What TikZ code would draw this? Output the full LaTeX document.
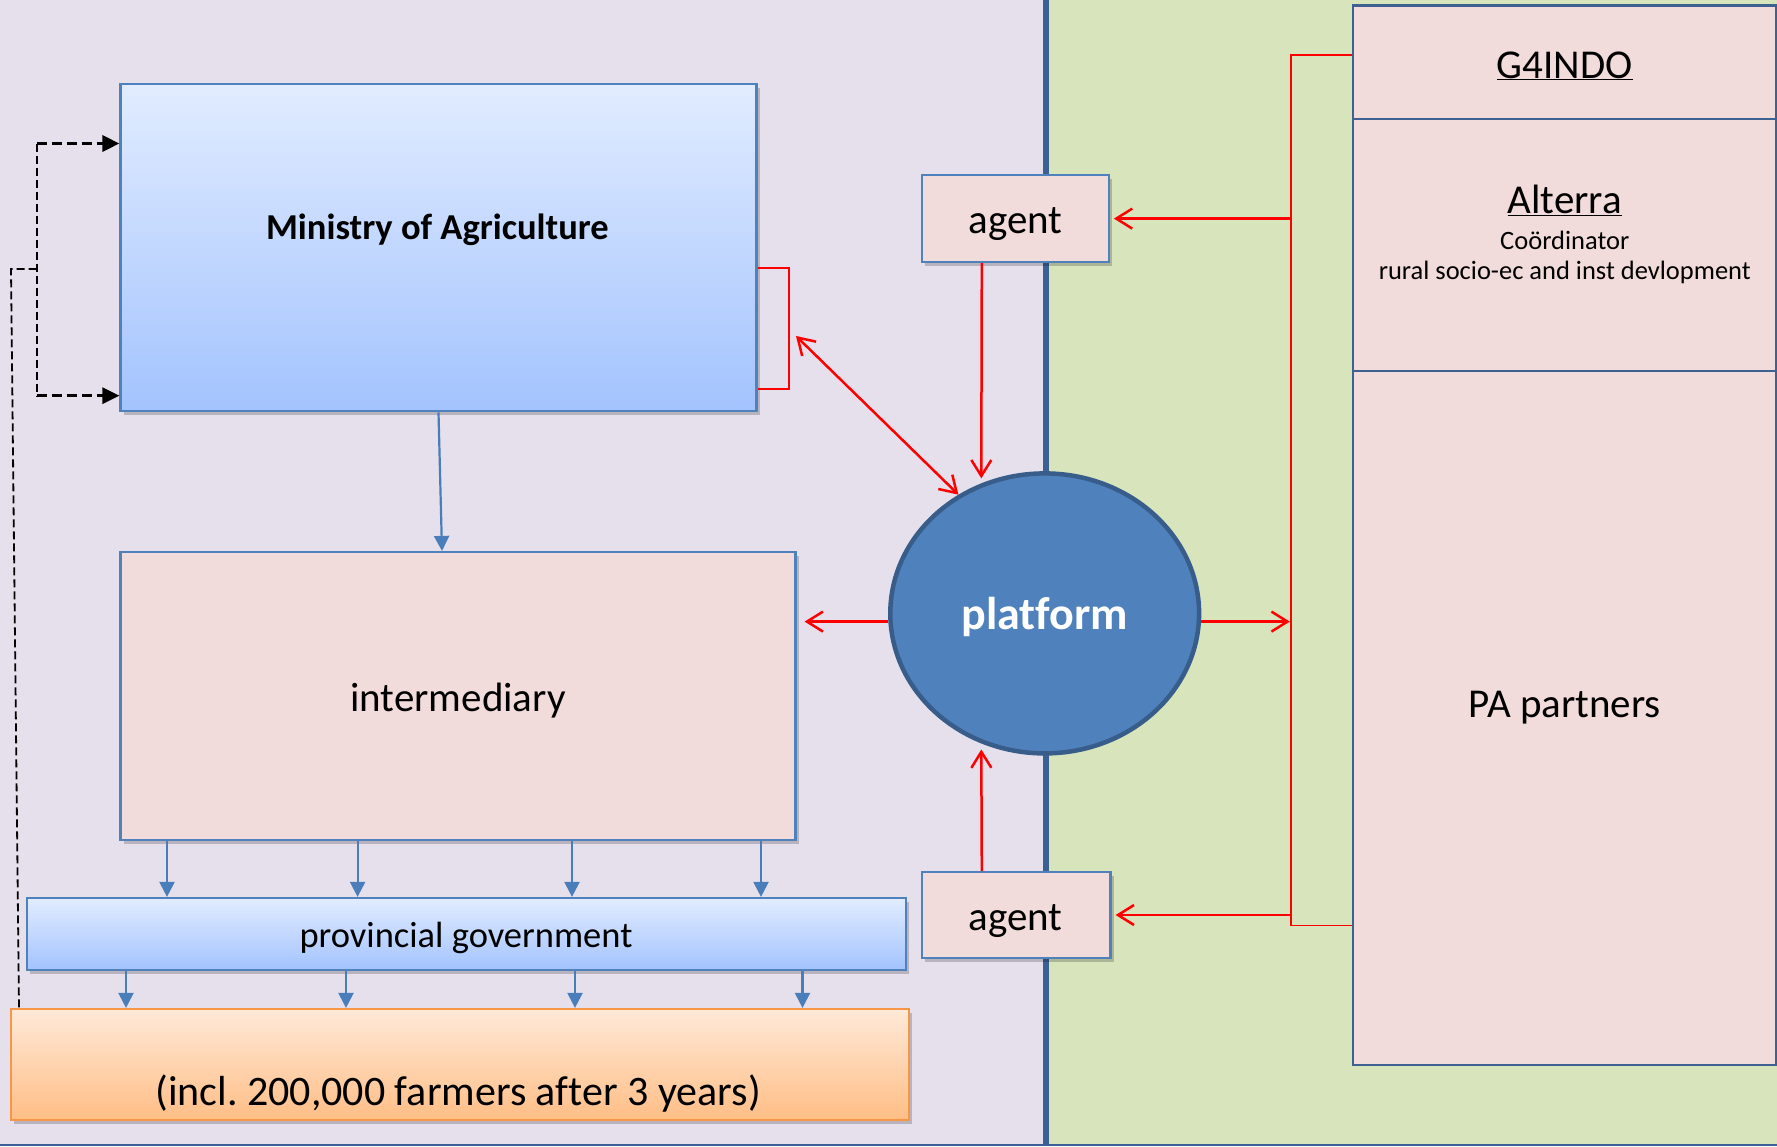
\documentclass[tikz,border=0pt]{standalone}
\usepackage{fontspec}
\setmainfont{Carlito}[Ligatures=NoCommon]
\usetikzlibrary{arrows.meta,shapes.geometric,shadows}
\definecolor{leftbg}{HTML}{E6E0EC}
\definecolor{rightbg}{HTML}{D8E4BC}
\definecolor{divblue}{HTML}{3B6194}
\definecolor{boxblue}{HTML}{4F81BD}
\definecolor{darkblue}{HTML}{3E6192}
\definecolor{gradtop}{HTML}{E1ECFF}
\definecolor{gradbot}{HTML}{A3C3FE}
\definecolor{pinkfill}{HTML}{F2DCDB}
\definecolor{orangetop}{HTML}{FFE9D8}
\definecolor{orangebot}{HTML}{FFBE86}
\definecolor{orangeborder}{HTML}{F79646}
\definecolor{platfill}{HTML}{4F81BD}
\definecolor{platborder}{HTML}{385D8A}
\definecolor{arrowblue}{HTML}{4A7EBB}
\definecolor{redc}{HTML}{FF0000}
\newcommand\fsBig{\fontsize{41}{49}\selectfont}
\newcommand\fsFarm{\fontsize{42}{50}\selectfont}
\newcommand\fsMid{\fontsize{36.5}{44}\selectfont}
\newcommand\fsPlat{\fontsize{46}{55}\selectfont}
\newcommand\fsSmall{\fontsize{26.5}{32}\selectfont}
\tikzset{
  bluebox/.style={rectangle, draw=boxblue, line width=2.2pt, top color=gradtop, bottom color=gradbot, inner sep=0pt},
  pinkbox/.style={rectangle, draw=boxblue, line width=2.2pt, fill=pinkfill, inner sep=0pt},
  orangebox/.style={rectangle, draw=orangeborder, line width=2.2pt, top color=orangetop, bottom color=orangebot, inner sep=0pt},
  rightbox/.style={rectangle, draw=darkblue, line width=2.2pt, fill=pinkfill, inner sep=0pt},
  shadowed/.style={drop shadow={shadow xshift=3pt, shadow yshift=-4pt, opacity=0.2, fill=black}},
  txt/.style={anchor=base, inner sep=0pt, outer sep=0pt},
  redline/.style={draw=redc, line width=1.8pt},
  redarrow/.style={draw=redc, line width=2.5pt, -{Straight Barb[length=16pt,width=20pt,line width=2.5pt]}},
  redboth/.style={draw=redc, line width=2.5pt, {Straight Barb[length=16pt,width=20pt,line width=2.5pt]}-{Straight Barb[length=16pt,width=20pt,line width=2.5pt]}},
  bluearrow/.style={draw=arrowblue, line width=2.2pt, -{Triangle[length=15pt,width=15pt]}},
  dasharrow/.style={draw=black, line width=3.2pt, dash pattern=on 10pt off 5pt, -{Triangle[length=17pt,width=16pt]}},
  thindash/.style={draw=black, line width=1.8pt, dash pattern=on 8pt off 4pt},
}
\begin{document}
\frenchspacing
\begin{tikzpicture}[x=1pt,y=-1pt]
\useasboundingbox (0,0) rectangle (1777,1146);
% backgrounds
\fill[leftbg] (0,0) rectangle (1046.3,1146);
\fill[rightbg] (1046.3,0) rectangle (1777,1146);
\draw[divblue, line width=6pt] (1046.3,0) -- (1046.3,1146);
\draw[divblue, line width=2.5pt] (0,1145) -- (1777,1145);

% left boxes
\node[bluebox, shadowed, minimum width=636pt, minimum height=327pt] (ministry) at (438.5,247.8) {};
\node[txt, font=\fsMid\bfseries] (ministryT) at (437.4,239) {Ministry of Agriculture};
\node[pinkbox, shadowed, minimum width=675pt, minimum height=287.6pt] (inter) at (458,695.8) {};
\node[txt, font=\fsBig] (interT) at (458,711.5) {intermediary};
\node[bluebox, shadowed, minimum width=878.6pt, minimum height=72pt] (prov) at (466.3,934) {};
\node[txt, font=\fsMid] (provT) at (466,947) {provincial government};
\node[orangebox, shadowed, minimum width=898pt, minimum height=111pt] (farm) at (459.7,1064.5) {};
\node[txt, font=\fsFarm] (farmT) at (458,1105) {(incl. 200,000 farmers after 3 years)};

% agents
\node[pinkbox, shadowed, minimum width=187pt, minimum height=86.7pt] (agentT) at (1015.3,218.6) {};
\node[txt, font=\fsBig] (agentTt) at (1015.6,233) {agent};
\node[pinkbox, shadowed, minimum width=188.7pt, minimum height=85.5pt] (agentB) at (1016.2,915) {};
\node[txt, font=\fsBig] (agentBt) at (1015.6,930) {agent};

% platform
\node[ellipse, fill=platfill, draw=platborder, line width=4.5pt, minimum width=308.8pt, minimum height=280pt, inner sep=0pt] (plat) at (1044.7,613.4) {};
\node[txt, font=\fsPlat\bfseries, text=white] (platT) at (1044.8,629.8) {platform};

% right boxes
\node[rightbox, minimum width=423pt, minimum height=113.5pt] (g4) at (1564.5,62.25) {};
\node[txt, font=\fsBig] (g4T) at (1564.8,78) {\underline{G4INDO}};
\node[rightbox, minimum width=423pt, minimum height=252pt] (alt) at (1564.5,245) {};
\node[txt, font=\fsBig] (altT) at (1564.8,213) {\underline{Alterra}};
\node[txt, font=\fsSmall] (altS1) at (1564.8,249) {Coördinator};
\node[txt, font=\fsSmall] (altS2) at (1564.8,279) {rural socio-ec and inst devlopment};
\node[rightbox, minimum width=423pt, minimum height=694pt] (pa) at (1564.5,718) {};
\node[txt, font=\fsBig] (paT) at (1564.8,717.2) {PA partners};

% coordinates
\coordinate (brT) at (789.3,268.3);
\coordinate (brB) at (789.3,389);
\coordinate (brM) at (796,336);
\coordinate (busT) at (1290.8,54.7);
\coordinate (busB) at (1290.8,925.5);
\coordinate (aX) at (981.8,0);
\coordinate (mX) at (442,0);
\coordinate (dA) at (36.7,143.5);
\coordinate (dB) at (36.7,395.7);
\coordinate (dC) at (36.7,269);
\coordinate (dD) at (11,269);
\coordinate (dE) at (19,0);

% red connectors
\draw[redline] (ministry.east |- brT) -- (brT) -- (brB) -- (ministry.east |- brB);
\draw[redboth] (brM) -- (plat.126);
\draw[redarrow, shorten >=5pt] (agentT.south -| aX) -- (plat.116);
\draw[redarrow, shorten >=6pt] (agentB.north -| aX) -- (plat.-116);
\draw[redarrow, shorten >=8pt] (plat.183) -- (plat.183 -| inter.east);
\draw[redarrow, shorten >=1pt] (plat.-3) -- (plat.-3 -| busT);
\draw[redline] (g4.west |- busT) -- (busT) -- (busB) -- (pa.west |- busB);
\draw[redarrow, shorten >=4pt] (busT |- agentT.east) -- (agentT.east);
\draw[redarrow, shorten >=4pt] (busT |- agentB.east) -- (agentB.east);

% blue arrows
\draw[bluearrow] (ministry.south) -- (inter.north -| mX);
\foreach \xx [count=\i] in {167,357.6,572,761} {
  \coordinate (ipx\i) at (\xx,0);
  \draw[bluearrow] (inter.south -| ipx\i) -- (prov.north -| ipx\i);
}
\foreach \xx [count=\i] in {126,346,575,802.5} {
  \coordinate (pfx\i) at (\xx,0);
  \draw[bluearrow] (prov.south -| pfx\i) -- (farm.north -| pfx\i);
}

% dashed feedback
\draw[dasharrow] (dA) -- (ministry.west |- dA);
\draw[dasharrow] (dB) -- (ministry.west |- dB);
\draw[thindash] (dA) -- (dB);
\draw[thindash] (dC) -- (dD) -- (farm.north -| dE);
\end{tikzpicture}
\end{document}
